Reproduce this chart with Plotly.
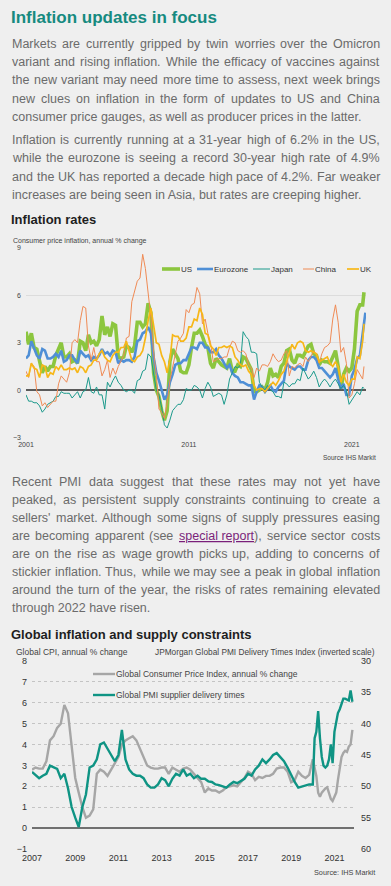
import plotly.graph_objects as go

W, H = 391, 886


def py(p):
    return 1 - p / H


def pxx(p):
    return p / W


FONT = "Liberation Sans, Arial, sans-serif"

# ---------------- Chart 1 data: consumer price inflation, annual % change ----------------
c1_dates = [f"{y}-{m:02d}-01" for y in range(2001, 2022) for m in (1, 3, 5, 7, 9, 11)
            if not (y == 2021 and m == 11)] + ["2021-10-01", "2021-11-01"]

us = [3.7, 2.9, 3.6, 2.7, 2.6, 1.9,
      1.1, 1.5, 1.2, 1.5, 1.5, 2.2,
      2.6, 3.0, 2.1, 2.1, 2.3, 1.8,
      1.9, 1.7, 3.1, 3.0, 2.5, 3.5,
      3.0, 3.1, 2.8, 3.2, 4.7, 3.5,
      4.0, 3.4, 4.2, 4.1, 2.1, 2.0,
      2.1, 2.8, 2.7, 2.4, 2.8, 4.3,
      4.3, 4.0, 4.2, 5.5, 4.9, 1.1,
      0.0, -0.4, -1.3, -1.9, -1.3, 1.8,
      2.6, 2.3, 2.0, 1.2, 1.1, 1.1,
      1.6, 2.7, 3.6, 3.6, 3.8, 3.4,
      2.9, 2.7, 1.7, 1.4, 2.0, 1.8,
      1.6, 1.5, 1.4, 2.0, 1.2, 1.2,
      1.6, 1.5, 2.1, 2.0, 1.7, 1.3,
      -0.1, -0.1, 0.0, 0.2, 0.0, 0.5,
      1.4, 0.9, 1.0, 0.8, 1.5, 1.7,
      2.5, 2.6, 1.9, 1.7, 2.2, 2.2,
      2.1, 2.4, 2.8, 2.9, 2.3, 2.2,
      1.6, 1.9, 1.8, 1.8, 1.7, 2.1,
      2.5, 1.5, 0.1, 1.0, 1.4, 1.2,
      1.4, 2.6, 5.0, 5.4, 5.4, 6.2, None]

eurozone = [2.0, 2.2, 3.1, 2.6, 2.2, 2.0,
            2.6, 2.5, 2.0, 2.0, 2.1, 2.3,
            2.1, 2.5, 1.8, 1.9, 2.2, 2.2,
            1.9, 1.7, 2.5, 2.3, 2.1, 2.2,
            1.9, 2.1, 2.0, 2.2, 2.6, 2.3,
            2.4, 2.2, 2.5, 2.4, 1.7, 1.9,
            1.8, 1.9, 1.9, 1.8, 2.1, 3.1,
            3.2, 3.6, 3.7, 4.0, 3.6, 2.1,
            1.1, 0.6, 0.0, -0.6, -0.3, 0.5,
            1.0, 1.6, 1.7, 1.7, 1.9, 1.9,
            2.3, 2.7, 2.7, 2.6, 3.0, 3.0,
            2.7, 2.7, 2.4, 2.4, 2.6, 2.2,
            2.0, 1.7, 1.4, 1.6, 1.1, 0.9,
            0.8, 0.5, 0.5, 0.4, 0.3, 0.3,
            -0.6, -0.1, 0.3, 0.2, -0.1, 0.1,
            0.3, 0.0, -0.1, 0.2, 0.4, 0.6,
            1.7, 1.5, 1.4, 1.3, 1.5, 1.5,
            1.3, 1.3, 1.9, 2.1, 2.1, 1.9,
            1.4, 1.4, 1.2, 1.0, 0.8, 1.0,
            1.4, 0.7, 0.1, 0.4, -0.3, -0.3,
            0.9, 1.3, 2.0, 2.2, 3.4, 4.1, 4.9]

japan = [-0.3, -0.7, -0.7, -0.8, -0.8, -1.0,
         -1.4, -1.2, -0.9, -0.8, -0.7, -0.4,
         -0.4, -0.1, -0.2, -0.2, -0.2, -0.5,
         -0.3, -0.1, -0.5, -0.1, 0.0, 0.8,
         -0.1, -0.2, 0.2, -0.3, -0.3, -1.2,
         0.5, 0.2, 0.6, 0.9, 0.5, 0.3,
         0.0, -0.1, 0.0, 0.0, -0.2, 0.6,
         0.7, 1.2, 1.3, 2.3, 2.1, 1.0,
         0.0, -0.3, -1.1, -2.2, -2.4, -1.9,
         -1.3, -1.1, -0.9, -0.9, -0.6, 0.1,
         0.0, 0.0, 0.3, 0.2, 0.0, -0.5,
         0.1, 0.5, 0.2, -0.4, -0.3, -0.2,
         -0.3, -0.9, -0.3, 0.7, 1.1, 1.5,
         1.4, 1.6, 3.7, 3.4, 3.2, 2.4,
         2.4, 2.3, 0.5, 0.2, 0.0, 0.3,
         0.0, -0.1, -0.4, -0.4, -0.5, 0.5,
         0.4, 0.2, 0.4, 0.4, 0.7, 0.6,
         1.4, 1.1, 0.7, 0.9, 1.2, 0.8,
         0.2, 0.5, 0.7, 0.5, 0.2, 0.5,
         0.7, 0.4, 0.1, 0.3, 0.0, -0.9,
         -0.6, -0.4, -0.1, -0.3, 0.2, 0.1, None]

china = [1.2, 0.8, 1.7, 1.5, -0.1, -0.3,
         -1.0, -0.8, -1.1, -0.9, -0.7, -0.7,
         0.4, 0.9, 0.7, 0.5, 1.1, 3.0,
         3.2, 3.0, 4.4, 5.3, 5.2, 2.8,
         1.9, 2.7, 1.8, 1.8, 0.9, 1.3,
         1.9, 0.8, 1.4, 1.0, 1.5, 1.9,
         2.2, 3.3, 3.4, 5.6, 6.2, 6.9,
         7.1, 8.6, 7.7, 6.3, 4.6, 2.4,
         1.0, -1.2, -1.4, -1.8, -0.8, 0.6,
         1.5, 2.4, 3.1, 3.3, 3.6, 5.1,
         4.9, 5.4, 5.5, 6.5, 6.1, 4.2,
         4.5, 3.6, 3.0, 1.8, 1.9, 2.0,
         2.0, 2.1, 2.1, 2.7, 3.1, 3.0,
         2.5, 2.4, 2.5, 2.3, 1.6, 1.4,
         0.8, 1.4, 1.2, 1.6, 1.6, 1.5,
         1.8, 2.3, 2.0, 1.8, 1.9, 2.3,
         2.5, 0.9, 1.5, 1.4, 1.6, 1.7,
         1.5, 2.1, 1.8, 2.1, 2.5, 2.2,
         1.7, 2.3, 2.7, 2.8, 3.0, 4.5,
         5.4, 4.3, 2.4, 2.7, 1.7, -0.5,
         -0.3, 0.4, 1.3, 1.0, 0.7, 1.5, None]

uk = [0.9, 0.9, 1.7, 1.4, 1.3, 0.8,
      1.6, 1.5, 0.8, 1.1, 1.0, 1.5,
      1.3, 1.6, 1.3, 1.3, 1.4, 1.3,
      1.4, 1.1, 1.5, 1.4, 1.1, 1.5,
      1.6, 1.9, 1.9, 2.3, 2.5, 2.1,
      1.9, 1.8, 2.2, 2.4, 2.4, 2.7,
      2.7, 3.1, 2.5, 1.9, 1.8, 2.1,
      2.2, 2.5, 3.3, 4.4, 5.2, 4.1,
      3.0, 2.9, 2.2, 1.8, 1.1, 1.9,
      3.5, 3.4, 3.4, 3.1, 3.1, 3.3,
      4.0, 4.0, 4.5, 4.4, 5.2, 4.8,
      3.6, 3.5, 2.8, 2.6, 2.2, 2.7,
      2.7, 2.8, 2.7, 2.8, 2.7, 2.1,
      1.9, 1.6, 1.5, 1.6, 1.2, 1.0,
      0.3, 0.0, 0.1, 0.1, -0.1, 0.1,
      0.3, 0.5, 0.3, 0.6, 1.0, 1.2,
      1.8, 2.3, 2.9, 2.6, 3.0, 3.1,
      3.0, 2.5, 2.4, 2.5, 2.4, 2.3,
      1.8, 1.9, 2.0, 2.1, 1.7, 1.5,
      1.8, 1.5, 0.5, 1.0, 0.5, 0.3,
      0.7, 0.7, 2.1, 2.0, 3.1, 4.2, None]

c1_names = ["US", "Eurozone", "Japan", "China", "UK"]
c1_colors = ["#8cc63f", "#4f8fd6", "#1b998b", "#ef8a54", "#f7b718"]
c1_widths = [3.6, 2.6, 1.0, 1.0, 1.7]
c1_xticks = ["2001-01-01", "2011-01-01", "2021-01-01"]
c1_xticklabels = ["2001", "2011", "2021"]
c1_yticks = [-3, 0, 3, 6, 9]

# ---------------- Chart 2 data ----------------
c2_dates = [f"{y}-{m:02d}-01" for y in range(2007, 2020) for m in (1, 3, 5, 7, 9, 11)] + \
           [f"{y}-{m:02d}-01" for y in (2020, 2021) for m in range(1, 13) if not (y == 2021 and m == 12)]

global_cpi = [2.8, 2.9, 2.85, 2.85, 3.2, 4.2,
              4.4, 4.8, 5.0, 5.9, 5.5, 3.8,
              2.4, 1.7, 1.0, 0.5, 0.6, 0.9,
              2.6, 2.8, 2.7, 2.5, 2.8, 3.1,
              3.4, 4.0, 4.2, 4.3, 4.4, 4.2,
              3.8, 3.4, 3.0, 2.9, 2.85, 2.85,
              2.9, 2.9, 2.6, 2.9, 2.8, 2.7,
              2.85, 2.9, 2.8, 2.6, 2.4, 2.2,
              1.7, 1.9, 1.8, 1.8, 1.7, 1.8,
              1.95, 2.0, 2.05, 2.0, 2.2, 2.4,
              2.7, 2.6, 2.3, 2.45, 2.4, 2.5,
              2.5, 2.6, 2.85, 2.9, 2.9, 2.7,
              2.2, 2.3, 2.7, 2.5, 2.4, 2.55,
              3.3, 2.9, 2.5, 1.7, 1.5, 1.7, 1.8, 1.9, 1.95, 1.7, 1.4, 1.3,
              1.5, 1.7, 2.3, 2.9, 3.4, 3.6, 3.7, 3.65, 3.9, 4.0, 4.7]

pmi_delivery = [47.7, 48.2, 48.7, 48.3, 48.0, 46.7,
                47.0, 47.2, 48.7, 48.0, 50.3, 53.3,
                55.0, 56.5, 53.3, 51.3, 47.0, 46.7,
                45.7, 43.3, 43.0, 44.0, 45.0, 46.0,
                45.0, 41.0, 45.7, 47.3, 48.0, 48.3,
                48.3, 48.7, 49.7, 50.2, 50.2, 49.7,
                48.7, 49.0, 50.0, 48.8, 48.0, 48.3,
                47.3, 48.3, 48.0, 48.7, 48.3, 48.8,
                48.8, 49.2, 49.3, 49.7, 49.8, 50.0,
                50.2, 49.7, 49.3, 49.5, 49.2, 48.8,
                48.0, 48.3, 47.3, 46.7, 45.7, 46.3,
                45.7, 45.0, 44.7, 45.3, 46.0, 47.0,
                48.3, 49.3, 50.2, 50.0, 49.8, 49.7,
                49.7, 42.3, 41.3, 38.0, 42.3, 45.3, 46.7, 47.0, 46.7, 45.7, 43.3, 46.3,
                41.3, 39.3, 38.3, 37.7, 37.0, 36.0, 36.0, 36.2, 36.3, 34.7, 36.5]

c2_xticks = [f"{y}-01-01" for y in range(2007, 2022, 2)]
c2_xticklabels = [str(y) for y in range(2007, 2022, 2)]
c2_left_ticks = [-1, 0, 1, 2, 3, 4, 5, 6, 7, 8]
c2_right_ticks = [30, 35, 40, 45, 50, 55, 60]

# ---------------- Text ----------------
para1 = ["Markets are currently gripped by twin worries over the Omicron",
         "variant and rising inflation. While the efficacy of vaccines against",
         "the new variant may need more time to assess, next week brings",
         "new clues on inflation in the form of updates to US and China",
         "consumer price gauges, as well as producer prices in the latter."]
para2 = ["Inflation is currently running at a 31-year high of 6.2% in the US,",
         "while the eurozone is seeing a record 30-year high rate of 4.9%",
         "and the UK has reported a decade high pace of 4.2%. Far weaker",
         "increases are being seen in Asia, but rates are creeping higher."]
para3 = ["Recent PMI data suggest that these rates may not yet have",
         "peaked, as persistent supply constraints continuing to create a",
         "sellers' market. Although some signs of supply pressures easing",
         "are becoming apparent (see special~report), service sector costs",
         "are on the rise as wage growth picks up, adding to concerns of",
         "stickier inflation. Thus, while we may see a peak in global inflation",
         "around the turn of the year, the risks of rates remaining elevated",
         "through 2022 have risen."]

fig = go.Figure()

for name, vals, col, w in zip(c1_names, [us, eurozone, japan, china, uk], c1_colors, c1_widths):
    fig.add_trace(go.Scatter(x=c1_dates, y=vals, mode="lines", name=name,
                             line=dict(color=col, width=w), xaxis="x", yaxis="y",
                             showlegend=False, hoverinfo="skip"))

fig.add_trace(go.Scatter(x=c2_dates, y=global_cpi, mode="lines",
                         name="Global Consumer Price Index, annual % change",
                         line=dict(color="#a6a6a6", width=2.4), xaxis="x2", yaxis="y2",
                         showlegend=False, hoverinfo="skip"))
fig.add_trace(go.Scatter(x=c2_dates, y=pmi_delivery, mode="lines",
                         name="Global PMI supplier delivery times",
                         line=dict(color="#0f9484", width=2.4), xaxis="x2", yaxis="y3",
                         showlegend=False, hoverinfo="skip"))

TXT = "#6b6b6b"
ann = []


def text(x, y, s, size, color, anchor="left", bold=False):
    ann.append(dict(x=pxx(x), y=py(y), xref="paper", yref="paper", text=(f"<b>{s}</b>" if bold else s),
                    showarrow=False, xanchor=anchor, yanchor="middle", borderpad=0, borderwidth=0,
                    font=dict(family=FONT, size=size, color=color)))


# Arial / Liberation Sans advance widths (1/1000 em), used to justify paragraph lines
AW = {' ': 278, ',': 278, '.': 278, "'": 191, '%': 889, '(': 333, ')': 333, '-': 333,
      'A': 667, 'C': 722, 'F': 611, 'I': 278, 'K': 667, 'M': 833, 'O': 778, 'P': 667,
      'R': 722, 'S': 667, 'T': 611, 'U': 722, 'W': 944,
      'a': 556, 'b': 556, 'c': 500, 'd': 556, 'e': 556, 'f': 278, 'g': 556, 'h': 556,
      'i': 222, 'j': 222, 'k': 500, 'l': 222, 'm': 833, 'n': 556, 'o': 556, 'p': 556,
      'q': 556, 'r': 333, 's': 500, 't': 278, 'u': 556, 'v': 500, 'w': 722, 'x': 500,
      'y': 500, 'z': 500}

PSIZE = 12.5
LEFT, RIGHT = 12, 380


def tw(s):
    return sum(AW.get(c, 556) for c in s) * PSIZE / 1000 * 1.006


def markup(word):
    if "~" in word:
        core = word.replace("~", " ")
        inner = core.rstrip("),")
        tail = core[len(inner):]
        return f'<span style="color:#7a1f7a;text-decoration:underline">{inner}</span>{tail}'
    return word


def paragraph(lines, y0, step):
    for i, line in enumerate(lines):
        y = y0 + i * step
        if i == len(lines) - 1:
            text(LEFT, y, " ".join(markup(w) for w in line.split(" ")), PSIZE, TXT)
            continue
        words = line.split(" ")
        widths = [tw(w.replace("~", " ")) for w in words]
        gap = (RIGHT - LEFT - sum(widths)) / (len(words) - 1)
        x = LEFT
        for j, (w, wd) in enumerate(zip(words, widths)):
            if j == len(words) - 1:
                text(RIGHT, y, markup(w), PSIZE, TXT, anchor="right")
            else:
                text(x, y, markup(w), PSIZE, TXT)
            x += wd + gap


text(11, 17, "Inflation updates in focus", 17, "#168a80", bold=True)
paragraph(para1, 44, 18.2)
paragraph(para2, 140, 18.3)
paragraph(para3, 482, 18.0)

text(11, 220, "Inflation rates", 13, "#1e1e1e", bold=True)
text(13, 241, "Consumer price inflation, annual % change", 7, "#444444")
text(376, 457, "Source IHS Markit", 6.5, "#444444", anchor="right")

text(11, 634, "Global inflation and supply constraints", 13, "#1e1e1e", bold=True)
text(16, 652, "Global CPI, annual % change", 8.5, "#444444")
text(375, 652, "JPMorgan Global PMI Delivery Times Index (inverted scale)", 8.3, "#444444", anchor="right")
text(375, 872, "Source: IHS Markit", 7.3, "#444444", anchor="right")

# legend keys (chart 1)
shapes = []
leg1 = [(162, 180, 181, "US"), (197, 213, 214, "Eurozone"), (253, 270, 271, "Japan"),
        (303, 314, 315, "China"), (347, 359, 360, "UK")]
for (x0, x1, xt, lab), col, w in zip(leg1, c1_colors, c1_widths):
    shapes.append(dict(type="line", xref="paper", yref="paper", x0=pxx(x0), x1=pxx(x1),
                       y0=py(269), y1=py(269), line=dict(color=col, width=w)))
    text(xt, 269, lab, 8, "#333333")

# legend keys (chart 2)
for yy, col, lab in [(674, "#a6a6a6", "Global Consumer Price Index, annual % change"),
                     (695, "#0f9484", "Global PMI supplier delivery times")]:
    shapes.append(dict(type="line", xref="paper", yref="paper", x0=pxx(93), x1=pxx(115),
                       y0=py(yy), y1=py(yy), line=dict(color=col, width=2.4)))
    text(115.5, yy, lab, 8.5, "#444444")

fig.update_layout(
    width=W, height=H,
    margin=dict(l=0, r=0, t=0, b=0, autoexpand=False),
    paper_bgcolor="#efefef", plot_bgcolor="rgba(0,0,0,0)",
    showlegend=False,
    font=dict(family=FONT, color="#444444"),
    annotations=ann, shapes=shapes,
    xaxis=dict(domain=[pxx(26), pxx(366)], range=["2001-01-01", "2021-11-15"], type="date",
               tickvals=c1_xticks, ticktext=c1_xticklabels, showgrid=False, zeroline=False,
               showline=False, ticks="", tickfont=dict(size=7, color="#444444"), anchor="y",
               ticklabelstandoff=1, automargin=False, fixedrange=True),
    yaxis=dict(domain=[py(437.5), py(248)], range=[-3, 9], tickvals=c1_yticks,
               showgrid=True, gridcolor="#dcdcdc", gridwidth=0.6,
               zeroline=True, zerolinecolor="#5a5a5a", zerolinewidth=1.6,
               showline=False, ticks="", tickfont=dict(size=7, color="#444444"),
               ticklabelstandoff=4, anchor="x", automargin=False, fixedrange=True),
    xaxis2=dict(domain=[pxx(32), pxx(354)], range=["2007-01-01", "2021-11-28"], type="date",
                tickvals=c2_xticks, ticktext=c2_xticklabels, showgrid=False, zeroline=False,
                showline=False, ticks="", tickfont=dict(size=9, color="#333333"), anchor="y2",
                ticklabelstandoff=2, automargin=False, fixedrange=True),
    yaxis2=dict(domain=[py(849), py(661)], range=[-1, 8], tickvals=c2_left_ticks,
                showgrid=True, gridcolor="#c4c4c4", gridwidth=0.8, griddash="dot",
                zeroline=True, zerolinecolor="#707070", zerolinewidth=2,
                showline=False, ticks="", tickfont=dict(size=9, color="#333333"),
                ticklabelstandoff=4, anchor="x2", automargin=False, fixedrange=True),
    yaxis3=dict(overlaying="y2", side="right", range=[60, 30], tickvals=c2_right_ticks,
                showgrid=False, zeroline=False, showline=False, ticks="",
                tickfont=dict(size=9, color="#333333"), ticklabelstandoff=6,
                anchor="x2", automargin=False, fixedrange=True),
)

fig.write_html("out.html", config={"displayModeBar": False},
               post_script="document.body.style.margin='0';document.body.style.background='#efefef';")
